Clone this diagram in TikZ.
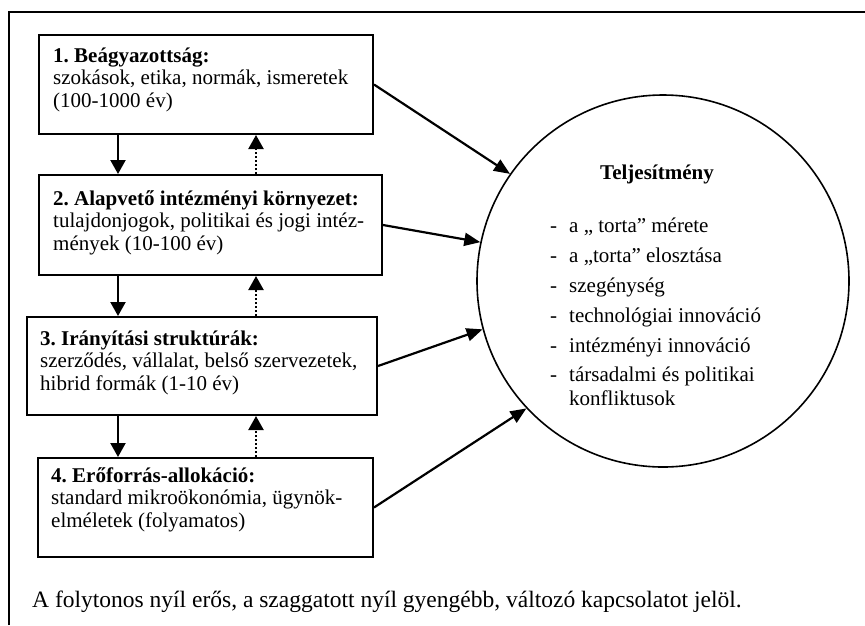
\documentclass[tikz,border=0pt]{standalone}
\usepackage{fontspec}
\setmainfont{Liberation Serif}
\frenchspacing
\usetikzlibrary{arrows.meta}
\begin{document}
\begin{tikzpicture}[x=1pt,y=-1pt,
  txt/.style={font=\fontsize{21}{22.5}\selectfont, inner sep=0pt, anchor=base west},
  box/.style={draw, line width=2pt, anchor=north west, inner sep=0pt},
  strong/.style={line width=2.2pt, -{Triangle[length=14pt,width=15pt]}},
  weak/.style={line width=2.2pt, dash pattern=on 2pt off 2pt, -{Triangle[length=14pt,width=15pt]}},
  toperf/.style={line width=2.2pt, -{Triangle[length=16pt,width=13pt]}},
  frame/.style={line width=2.4pt}]
\useasboundingbox (0,0) rectangle (865,625);
% frame
\coordinate (fr) at (9,12);
\coordinate (fx) at (865,12);
\coordinate (fy) at (9,625);
\draw[frame] (fy) -- (fr) -- (fx);
% boxes
\node[box, minimum width=334pt, minimum height=99pt] (b1) at (38,34) {};
\node[box, minimum width=343pt, minimum height=100pt] (b2) at (38,174) {};
\node[box, minimum width=350pt, minimum height=98pt] (b3) at (26,316) {};
\node[box, minimum width=335pt, minimum height=99pt] (b4) at (37,457) {};
\node[txt] (t1) at ([xshift=15pt, yshift=-28pt]b1.north west)
  {\begin{tabular}[t]{@{}l@{}}\textbf{1. Beágyazottság:}\\szokások, etika, normák, ismeretek\\(100-1000 év)\end{tabular}};
\node[txt] (t2) at ([xshift=15pt, yshift=-31pt]b2.north west)
  {\begin{tabular}[t]{@{}l@{}}\textbf{2. Alapvető intézményi környezet:}\\tulajdonjogok, politikai és jogi intéz-\\mények (10-100 év)\end{tabular}};
\node[txt] (t3) at ([xshift=14pt, yshift=-29pt]b3.north west)
  {\begin{tabular}[t]{@{}l@{}}\textbf{3. Irányítási struktúrák:}\\szerződés, vállalat, belső szervezetek,\\hibrid formák (1-10 év)\end{tabular}};
\node[txt] (t4) at ([xshift=14pt, yshift=-25pt]b4.north west)
  {\begin{tabular}[t]{@{}l@{}}\textbf{4. Erőforrás-allokáció:}\\standard mikroökonómia, ügynök-\\elméletek (folyamatos)\end{tabular}};
% vertical arrows
\coordinate (sx) at (118,0);
\coordinate (wx) at (256,0);
\draw[strong] (b1.south -| sx) -- (b2.north -| sx);
\draw[strong] (b2.south -| sx) -- (b3.north -| sx);
\draw[strong] (b3.south -| sx) -- (b4.north -| sx);
\draw[weak] (b2.north -| wx) -- (b1.south -| wx);
\draw[weak] (b3.north -| wx) -- (b2.south -| wx);
\draw[weak] (b4.north -| wx) -- (b3.south -| wx);
% performance circle
\node[circle, draw, line width=1.6pt, minimum size=372pt, inner sep=0pt] (perf) at (663,281) {};
\node[txt, anchor=base] (perftitle) at (657,179) {\textbf{Teljesítmény}};
\node[txt] (perflist) at (550,232)
  {\begin{tabular}[t]{@{}p{19pt}@{}l@{}}
   - & a „ torta” mérete\\[7.5pt]
   - & a „torta” elosztása\\[7.5pt]
   - & szegénység\\[7.5pt]
   - & technológiai innováció\\[7.5pt]
   - & intézményi innováció\\[7pt]
   - & társadalmi és politikai\\[1.5pt]
     & konfliktusok
   \end{tabular}};
% arrows to circle
\draw[toperf] (b1.east) -- (perf.145);
\draw[toperf] (b2.east) -- (perf.168);
\draw[toperf] (b3.east) -- (perf.195);
\draw[toperf] (b4.east) -- (perf.223);
% note
\node[txt, font=\fontsize{23.5}{28}\selectfont] (note) at (32,607)
  {A folytonos nyíl erős, a szaggatott nyíl gyengébb, változó kapcsolatot jelöl.};
\end{tikzpicture}
\end{document}
